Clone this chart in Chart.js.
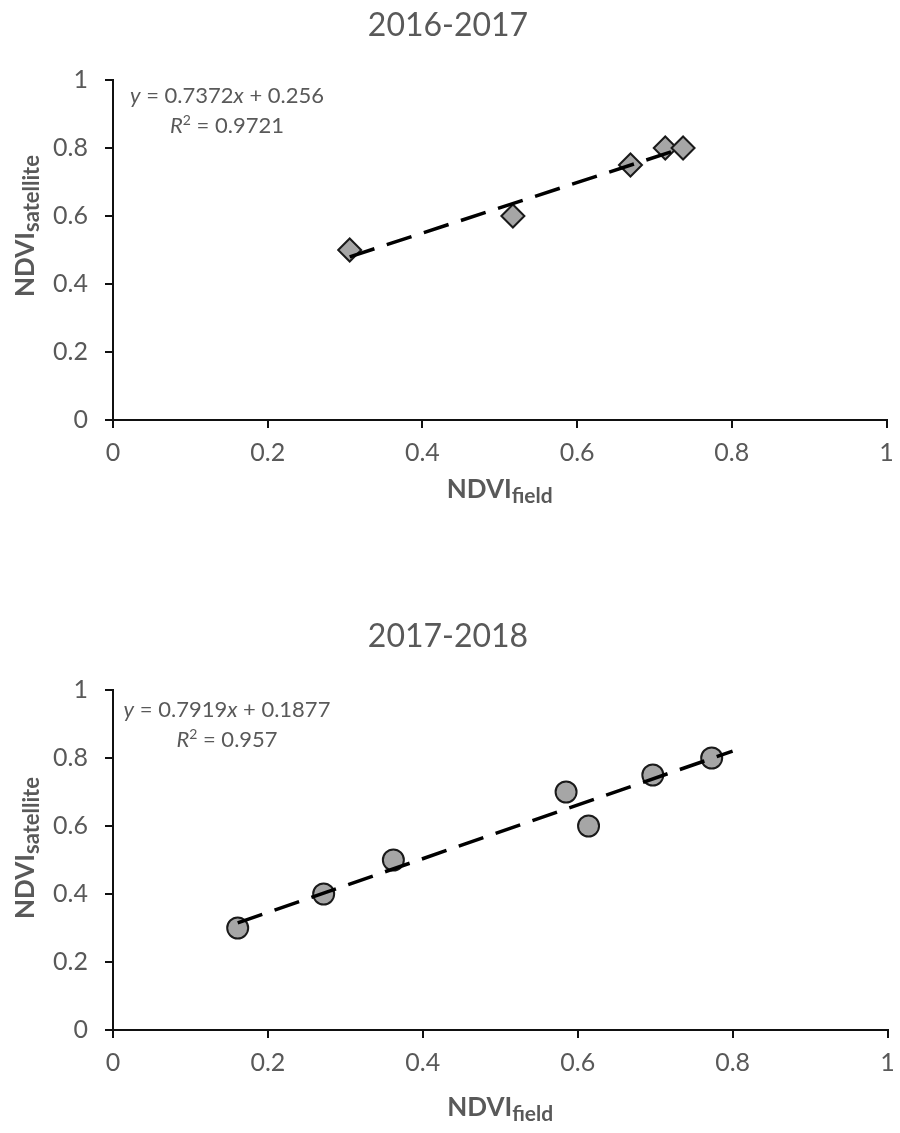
<!DOCTYPE html>
<html>
<head>
<meta charset="utf-8">
<script src="https://cdn.jsdelivr.net/npm/chart.js@4"></script>
<style>
  body { margin: 0; background: #fff; }
  canvas { display: block; }
</style>
</head>
<body>
<canvas id="chart2016" width="900" height="566"></canvas>
<canvas id="chart2017" width="900" height="567"></canvas>
<script>
// 2016-2017 season
const field2016 = [0.306, 0.517, 0.669, 0.714, 0.737];
const satellite2016 = [0.50, 0.60, 0.75, 0.80, 0.80];
const trendX2016 = [0.306, 0.737];
const trendY2016 = [0.48, 0.80];

// 2017-2018 season
const field2017 = [0.161, 0.272, 0.362, 0.585, 0.614, 0.697, 0.773];
const satellite2017 = [0.30, 0.40, 0.50, 0.70, 0.60, 0.75, 0.80];
const trendX2017 = [0.161, 0.80];
const trendY2017 = [0.315, 0.82];

const axisTicks = [0, 0.2, 0.4, 0.6, 0.8, 1];
const axisTickLabels = ["0", "0.2", "0.4", "0.6", "0.8", "1"];

const TEXT_GREY = "#595959";
const FONT = "Lato, 'Open Sans', sans-serif";

function toPoints(xs, ys) {
  return xs.map((x, i) => ({ x, y: ys[i] }));
}

// draws a row of text pieces (different fonts / offsets) centred on cx
function drawRuns(ctx, runs, cx, baseline) {
  let total = 0;
  runs.forEach((r) => {
    ctx.font = r.font;
    r.w = ctx.measureText(r.t).width;
    total += r.w;
  });
  let x = cx - total / 2;
  ctx.textAlign = "left";
  ctx.textBaseline = "alphabetic";
  runs.forEach((r) => {
    ctx.font = r.font;
    ctx.fillText(r.t, x, baseline + (r.dy || 0));
    x += r.w;
  });
}

const figureText = {
  id: "figureText",
  afterDraw(chart, args, opts) {
    const ctx = chart.ctx;
    const area = chart.chartArea;
    ctx.save();
    ctx.fillStyle = TEXT_GREY;

    // chart title
    ctx.font = `32px ${FONT}`;
    ctx.textAlign = "center";
    ctx.textBaseline = "alphabetic";
    ctx.fillText(opts.title, 448, area.top - opts.titleGap);

    // trendline equation
    const eqX = 227;
    drawRuns(ctx, [
      { t: "y", font: `italic 22px ${FONT}` },
      { t: " = " + opts.slope, font: `22px ${FONT}` },
      { t: "x", font: `italic 22px ${FONT}` },
      { t: " + " + opts.intercept, font: `22px ${FONT}` }
    ], eqX, area.top + opts.eqGap);
    drawRuns(ctx, [
      { t: "R", font: `italic 22px ${FONT}` },
      { t: "2", font: `14px ${FONT}`, dy: -8 },
      { t: " = " + opts.r2, font: `22px ${FONT}` }
    ], eqX, area.top + opts.eqGap + 30);

    // x axis title
    drawRuns(ctx, [
      { t: "NDVI", font: `bold 26px ${FONT}` },
      { t: "field", font: `bold 21px ${FONT}`, dy: 5 }
    ], (area.left + area.right) / 2, area.bottom + opts.xTitleGap);

    // y axis title, rotated
    ctx.translate(34, area.top + opts.yTitleGap);
    ctx.rotate(-Math.PI / 2);
    drawRuns(ctx, [
      { t: "NDVI", font: `bold 26px ${FONT}` },
      { t: "satellite", font: `bold 22px ${FONT}`, dy: 5 }
    ], 0, 0);

    ctx.restore();
  }
};

function makeChart(canvasId, cfg) {
  const ctx = document.getElementById(canvasId).getContext("2d");
  const axisGrid = {
    display: true,
    drawOnChartArea: false,
    drawTicks: true,
    tickLength: 8,
    color: "#111",
    lineWidth: 2
  };
  const axisBorder = { display: true, color: "#111", width: 2 };
  const tickLabel = (value) => axisTickLabels[axisTicks.indexOf(value)] ?? String(value);

  return new Chart(ctx, {
    type: "scatter",
    data: {
      datasets: [
        {
          label: "trend",
          data: toPoints(cfg.trendX, cfg.trendY),
          showLine: true,
          borderColor: "#000",
          borderWidth: 3.5,
          borderDash: [26, 13],
          pointRadius: 0,
          fill: false
        },
        {
          label: "NDVI",
          data: toPoints(cfg.xs, cfg.ys),
          pointStyle: cfg.marker,
          pointRadius: cfg.radius,
          pointHoverRadius: cfg.radius,
          backgroundColor: "#a6a6a6",
          borderColor: "#1a1a1a",
          borderWidth: cfg.markerBorder
        }
      ]
    },
    options: {
      responsive: false,
      animation: false,
      devicePixelRatio: 1,
      layout: { padding: { left: 0, right: 10, top: cfg.top, bottom: 0 } },
      plugins: {
        legend: { display: false },
        tooltip: { enabled: false },
        figureText: {
          title: cfg.title,
          titleGap: cfg.titleGap,
          slope: cfg.slope,
          intercept: cfg.intercept,
          r2: cfg.r2,
          eqGap: cfg.eqGap,
          xTitleGap: cfg.xTitleGap,
          yTitleGap: cfg.yTitleGap
        }
      },
      scales: {
        x: {
          type: "linear",
          min: 0,
          max: 1,
          afterFit: (scale) => {
            scale.height = cfg.xHeight;
            scale.paddingLeft = 0;
            scale.paddingRight = 0;
          },
          afterBuildTicks: (scale) => { scale.ticks = axisTicks.map((v) => ({ value: v })); },
          ticks: { color: TEXT_GREY, font: { family: FONT, size: 25 }, padding: 10, callback: tickLabel },
          grid: axisGrid,
          border: axisBorder
        },
        y: {
          type: "linear",
          min: 0,
          max: 1,
          afterFit: (scale) => {
            scale.width = 113;
            scale.paddingTop = 0;
            scale.paddingBottom = 0;
          },
          afterBuildTicks: (scale) => { scale.ticks = axisTicks.map((v) => ({ value: v })); },
          ticks: { color: TEXT_GREY, font: { family: FONT, size: 25 }, padding: 17, callback: tickLabel },
          grid: axisGrid,
          border: axisBorder
        }
      }
    },
    plugins: [figureText]
  });
}

makeChart("chart2016", {
  xs: field2016,
  ys: satellite2016,
  trendX: trendX2016,
  trendY: trendY2016,
  marker: "rectRot",
  radius: 11.5,
  markerBorder: 2,
  title: "2016-2017",
  titleGap: 44,
  slope: "0.7372",
  intercept: "0.256",
  r2: "0.9721",
  eqGap: 23,
  xTitleGap: 78,
  yTitleGap: 146,
  top: 80,
  xHeight: 146
});

makeChart("chart2017", {
  xs: field2017,
  ys: satellite2017,
  trendX: trendX2017,
  trendY: trendY2017,
  marker: "circle",
  radius: 10.5,
  markerBorder: 2,
  title: "2017-2018",
  titleGap: 43,
  slope: "0.7919",
  intercept: "0.1877",
  r2: "0.957",
  eqGap: 27,
  xTitleGap: 86,
  yTitleGap: 158,
  top: 124,
  xHeight: 103
});
</script>
</body>
</html>
